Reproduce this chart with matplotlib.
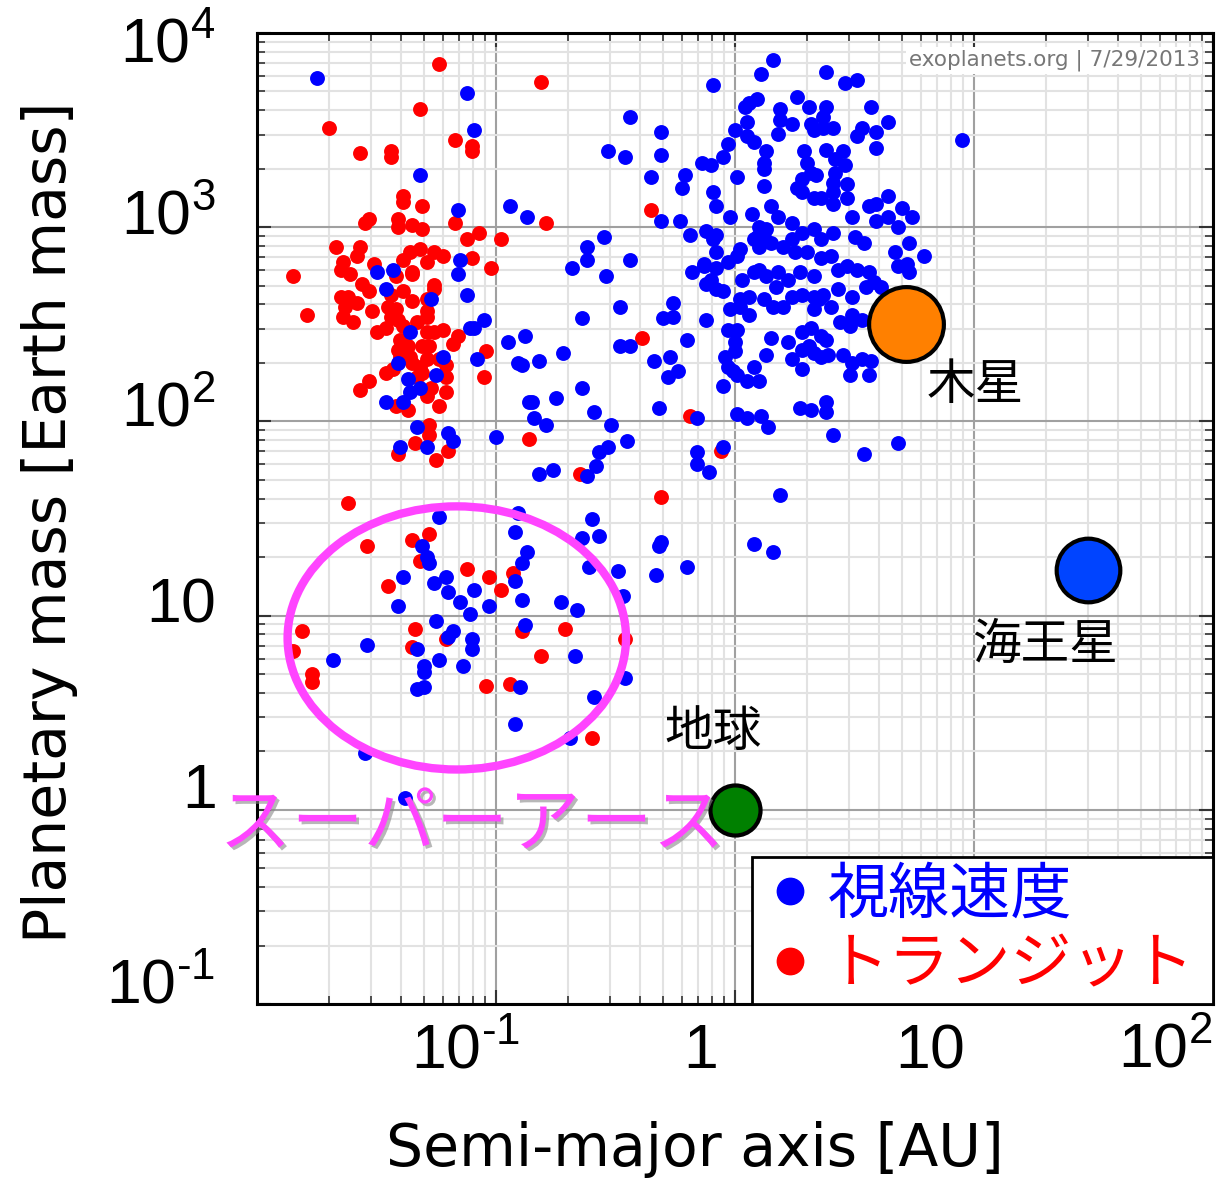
import numpy as np
import matplotlib
matplotlib.use('Agg')
import matplotlib.pyplot as plt
from matplotlib.patches import Ellipse
from matplotlib.lines import Line2D
from matplotlib import patheffects, transforms
from matplotlib.ticker import NullFormatter

plt.rcParams['font.family'] = ['DejaVu Sans', 'Noto Sans CJK JP']
plt.rcParams['mathtext.fontset'] = 'custom'
plt.rcParams['mathtext.rm'] = 'Liberation Sans'
plt.rcParams['mathtext.it'] = 'Liberation Sans'

JP = ['Noto Sans CJK JP', 'DejaVu Sans']

# (log10 semi-major axis [AU], log10 mass [Earth mass])
transit_pts = [
    (-1.24, 3.84), (-1.32, 3.61), (-1.70, 3.51), (-1.17, 3.45), (-1.10, 3.42), (-1.10, 3.39), (-1.57, 3.38),
    (-1.44, 3.39), (-1.44, 3.36), (-1.39, 3.16), (-1.39, 3.13), (-1.31, 3.11), (-1.53, 3.04), (-1.55, 3.02),
    (-1.41, 3.04), (-1.41, 3.00), (-1.35, 3.01), (-1.31, 2.99), (-1.17, 3.02), (-1.07, 2.97), (-1.12, 2.94),
    (-0.98, 2.94), (-1.67, 2.90), (-1.57, 2.90), (-1.58, 2.85), (-1.64, 2.82), (-1.65, 2.78), (-1.61, 2.76),
    (-1.51, 2.81), (-1.42, 2.75), (-1.32, 2.89), (-1.36, 2.87), (-1.39, 2.83), (-1.26, 2.87), (-1.22, 2.85),
    (-1.29, 2.82), (-1.35, 2.77), (-1.35, 2.76), (-1.10, 2.84), (-1.02, 2.79), (-1.85, 2.75), (-1.56, 2.71),
    (-1.53, 2.67), (-1.39, 2.67), (-1.44, 2.65), (-1.26, 2.70), (-1.26, 2.68), (-1.65, 2.64), (-1.62, 2.64),
    (-1.79, 2.55), (-1.63, 2.59), (-1.64, 2.54), (-1.60, 2.51), (-1.58, 2.61), (-1.52, 2.57), (-1.45, 2.59),
    (-1.42, 2.58), (-1.35, 2.62), (-1.29, 2.63), (-1.29, 2.57), (-1.50, 2.46), (-1.46, 2.48), (-1.41, 2.52),
    (-1.39, 2.49), (-1.44, 2.54), (-1.33, 2.51), (-1.29, 2.54), (-1.29, 2.46), (-1.26, 2.46), (-1.22, 2.47),
    (-1.16, 2.44), (-1.18, 2.40), (-1.40, 2.42), (-1.37, 2.39), (-1.41, 2.37), (-1.36, 2.33), (-1.31, 2.39),
    (-1.28, 2.39), (-1.40, 2.33), (-1.35, 2.30), (-1.32, 2.28), (-1.29, 2.32), (-1.24, 2.32), (-1.21, 2.29),
    (-1.46, 2.25), (-1.43, 2.27), (-1.53, 2.21), (-1.57, 2.16), (-1.21, 2.23), (-1.33, 2.23), (-1.31, 2.25),
    (-1.27, 2.17), (-1.29, 2.13), (-1.21, 2.15), (-1.24, 2.08), (-1.42, 2.08), (-1.37, 2.06), (-1.04, 2.36),
    (-1.05, 2.23), (-1.28, 1.98), (-1.28, 1.93), (-1.34, 1.89), (-1.41, 1.83), (-1.20, 1.85), (-1.25, 1.80),
    (-0.86, 1.91), (-0.81, 3.75), (-0.79, 3.02), (-0.35, 3.09), (-0.39, 2.43), (-0.65, 1.73), (-0.19, 2.03),
    (-0.06, 1.85), (-0.31, 1.61), (-1.62, 1.58), (-1.54, 1.36), (-1.35, 1.39), (-1.28, 1.42), (-1.32, 1.28),
    (-1.45, 1.15), (-1.12, 1.24), (-1.03, 1.20), (-0.93, 1.22), (-0.98, 1.13), (-0.89, 0.92), (-0.71, 0.93),
    (-1.81, 0.92), (-1.34, 0.93), (-1.21, 0.88), (-1.35, 0.84), (-1.85, 0.82), (-0.81, 0.79), (-0.46, 0.88),
    (-1.77, 0.70), (-1.77, 0.66), (-1.04, 0.64), (-0.94, 0.65), (-0.60, 0.37),
]

rv_pts = [
    (-1.75, 3.77), (-1.12, 3.69), (-1.09, 3.50), (-1.32, 3.27), (-1.16, 3.09), (-0.94, 3.11), (-0.87, 3.05),
    (-1.50, 2.77), (-1.43, 2.78), (-1.15, 2.83), (-1.16, 2.76), (-1.46, 2.68), (-1.12, 2.65), (-1.27, 2.63),
    (-1.36, 2.46), (-1.41, 2.30), (-1.22, 2.33), (-1.37, 2.22), (-1.25, 2.24), (-1.32, 2.17), (-1.36, 2.15),
    (-1.46, 2.10), (-1.39, 2.10), (-1.11, 2.48), (-1.09, 2.48), (-1.05, 2.52), (-0.95, 2.41), (-0.88, 2.44),
    (-1.08, 2.32), (-0.91, 2.30), (-0.89, 2.29), (-0.86, 2.10), (-1.33, 1.97), (-1.29, 1.87), (-1.40, 1.87),
    (-1.20, 1.94), (-1.18, 1.90), (-1.00, 1.92),
    (-0.09, 3.73), (-0.44, 3.57), (-0.31, 3.49), (-0.53, 3.39), (-0.46, 3.36), (-0.31, 3.37), (-0.14, 3.33),
    (-0.10, 3.32), (-0.35, 3.26), (-0.21, 3.27), (-0.22, 3.20), (-0.09, 3.18), (-0.08, 3.11), (-0.31, 3.03),
    (-0.23, 3.03), (-0.55, 2.95), (-0.62, 2.90), (-0.62, 2.83), (-0.68, 2.79), (-0.44, 2.83), (-0.54, 2.75),
    (-0.18, 2.77), (-0.19, 2.96), (-0.12, 2.98), (-0.09, 2.94), (-0.13, 2.80), (-0.10, 2.73), (-0.48, 2.59),
    (-0.26, 2.61), (-0.30, 2.53), (-0.26, 2.54), (-0.64, 2.53), (-0.12, 2.52), (-0.20, 2.42), (-0.48, 2.39),
    (-0.44, 2.39), (-0.72, 2.35), (-0.82, 2.31), (-0.34, 2.31), (-0.27, 2.33), (-0.24, 2.26), (-0.28, 2.23),
    (-0.64, 2.17), (-0.85, 2.10), (-0.75, 2.12), (-0.84, 2.02), (-0.79, 1.98), (-0.59, 2.05), (-0.32, 2.07),
    (-0.16, 2.02), (-0.52, 1.98), (-0.45, 1.90), (-0.53, 1.87), (-0.57, 1.84), (-0.58, 1.77), (-0.82, 1.73),
    (-0.76, 1.75), (-0.62, 1.72), (-0.16, 1.84), (-0.16, 1.78), (-0.11, 1.74), (-0.91, 1.53), (-0.60, 1.50),
    (-0.92, 1.43), (-0.64, 1.40), (-0.57, 1.41), (-0.32, 1.36), (-0.31, 1.38), (-0.87, 1.33), (-0.89, 1.27),
    (-0.61, 1.25), (-0.49, 1.23), (-0.33, 1.21), (-0.20, 1.25), (-0.92, 1.18), (-0.47, 1.10), (-1.03, 1.05),
    (-0.89, 1.08), (-0.73, 1.07), (-0.66, 1.03), (-0.05, 1.87),
    (-1.24, 1.51), (-1.31, 1.36), (-1.29, 1.30), (-1.28, 1.27), (-1.39, 1.20), (-1.41, 1.05), (-1.26, 1.17),
    (-1.21, 1.20), (-1.20, 1.12), (-1.15, 1.07), (-1.09, 1.13), (-1.11, 1.01), (-1.25, 0.97), (-0.88, 0.95),
    (-1.18, 0.92), (-1.20, 0.89), (-1.10, 0.88), (-1.10, 0.83), (-1.33, 0.83), (-1.54, 0.85), (-1.68, 0.77),
    (-1.24, 0.77), (-1.14, 0.74), (-1.30, 0.74), (-1.30, 0.71), (-0.67, 0.79), (-0.46, 0.68), (-0.90, 0.63),
    (-1.33, 0.62), (-1.30, 0.63), (-0.59, 0.58), (-0.92, 0.44), (-0.69, 0.37), (-1.55, 0.29), (-1.38, 0.06),
    (0.19, 1.62), (0.08, 1.37), (0.16, 1.33), (0.68, 1.89), (0.54, 1.83),
    (0.16, 3.86), (0.11, 3.79), (0.38, 3.80), (0.46, 3.74), (0.51, 3.76), (0.26, 3.67), (0.04, 3.62),
    (0.06, 3.64), (0.09, 3.66), (0.31, 3.62), (0.38, 3.62), (0.19, 3.61), (0.57, 3.62), (0.37, 3.57),
    (0.64, 3.54), (0.05, 3.54), (0.19, 3.55), (0.24, 3.53), (0.32, 3.53), (0.33, 3.50), (0.37, 3.51),
    (0.41, 3.51), (0.00, 3.50), (0.53, 3.51), (0.51, 3.47), (0.59, 3.49), (0.18, 3.48), (0.05, 3.47),
    (0.08, 3.44), (0.59, 3.41), (0.95, 3.45), (-0.03, 3.43), (-0.05, 3.36), (0.13, 3.39), (0.12, 3.33),
    (0.29, 3.39), (0.30, 3.33), (0.38, 3.40), (0.45, 3.39), (0.42, 3.35), (0.46, 3.32), (0.12, 3.30),
    (0.01, 3.26), (0.32, 3.28), (0.34, 3.27), (0.28, 3.25), (0.42, 3.28), (0.12, 3.21), (0.26, 3.20),
    (0.28, 3.18), (0.41, 3.23), (0.41, 3.18), (0.47, 3.22), (0.33, 3.15), (0.36, 3.15), (0.47, 3.15),
    (0.41, 3.12), (0.64, 3.16), (0.15, 3.11), (0.18, 3.05), (0.07, 3.07), (-0.02, 3.05), (0.56, 3.11),
    (0.59, 3.12), (0.70, 3.10), (0.49, 3.05), (0.59, 3.03), (0.64, 3.05), (0.74, 3.05), (0.68, 3.00),
    (0.24, 3.02), (0.10, 3.00), (0.13, 2.99), (0.09, 2.95), (0.33, 2.99), (0.41, 2.97), (0.50, 2.95),
    (0.54, 2.92), (0.73, 2.92),
    (-0.08, 2.96), (-0.08, 2.87), (0.02, 2.89), (0.01, 2.85), (0.08, 2.94), (0.12, 2.95), (0.10, 2.90),
    (0.15, 2.92), (0.20, 2.90), (0.24, 2.94), (0.25, 2.87), (0.28, 2.97), (0.36, 2.94), (0.30, 2.87),
    (0.36, 2.84), (0.40, 2.85), (0.67, 2.87), (0.79, 2.85), (-0.13, 2.81), (-0.08, 2.79), (-0.03, 2.82),
    (-0.12, 2.71), (-0.08, 2.68), (-0.05, 2.67), (0.03, 2.73), (0.08, 2.77), (0.10, 2.78), (0.13, 2.75),
    (0.18, 2.77), (0.22, 2.73), (0.02, 2.63), (0.06, 2.64), (0.17, 2.69), (0.27, 2.77), (0.33, 2.75),
    (0.43, 2.78), (0.47, 2.80), (0.51, 2.78), (0.56, 2.77), (0.58, 2.72), (0.61, 2.69), (0.55, 2.69),
    (0.68, 2.80), (0.72, 2.81), (0.73, 2.77), (0.43, 2.68), (0.49, 2.64), (0.12, 2.63), (0.16, 2.59),
    (0.20, 2.59), (0.24, 2.64), (0.28, 2.65), (0.33, 2.64), (0.37, 2.65), (0.35, 2.63), (0.40, 2.59),
    (0.33, 2.58), (-0.02, 2.58), (0.02, 2.59), (0.06, 2.55), (0.44, 2.51), (0.49, 2.55), (0.48, 2.49),
    (0.53, 2.52), (-0.03, 2.47), (0.01, 2.47), (0.00, 2.41), (0.00, 2.36), (0.15, 2.43), (0.22, 2.41),
    (0.28, 2.46), (0.32, 2.48), (0.36, 2.44), (0.38, 2.42), (0.31, 2.39), (0.28, 2.37), (0.33, 2.35),
    (-0.04, 2.33), (-0.03, 2.28), (-0.01, 2.26), (0.01, 2.24), (-0.05, 2.18), (0.05, 2.21), (0.08, 2.28),
    (0.10, 2.21), (0.13, 2.34), (0.24, 2.32), (0.28, 2.27), (0.36, 2.33), (0.39, 2.34), (0.45, 2.34),
    (0.49, 2.30), (0.53, 2.32), (0.57, 2.31), (0.48, 2.24), (0.56, 2.24), (0.01, 2.04), (0.05, 2.02),
    (0.11, 2.03), (0.14, 1.97), (0.27, 2.07), (0.32, 2.06), (0.38, 2.10), (0.38, 2.05), (0.41, 1.93),
]

# solar system planets: a [AU], mass [Earth mass]
planets = ['木星', '海王星', '地球']
planet_a = [5.2, 30.1, 1.0]
planet_m = [318, 17.1, 1.0]
planet_colors = ['#ff8000', '#0044ff', '#008000']
planet_sizes = [2900, 2100, 1300]
label_offsets = [(50, -44), (-31, -54), (-16, 56)]

legend_labels = ['視線速度', 'トランジット']
xticks = [0.1, 1, 10, 100]
xticklabels = [r'$10^{\text{-1}}$', r'$1$', r'$10$', r'$10^{2}$']
yticks = [0.1, 1, 10, 100, 1000, 10000]
yticklabels = [r'$10^{\text{-1}}$', r'$1$', r'$10$', r'$10^{2}$', r'$10^{3}$', r'$10^{4}$']

fig = plt.figure(figsize=(12.16, 11.83), dpi=100)
ax = fig.add_axes([257 / 1216, 1 - 1004 / 1183, 956 / 1216, 971 / 1183])

tr = np.array(transit_pts)
rv = np.array(rv_pts)
ax.scatter(10 ** tr[:, 0], 10 ** tr[:, 1], s=115, c='#ff0000', lw=0, zorder=3)
ax.scatter(10 ** rv[:, 0], 10 ** rv[:, 1], s=115, c='#0000ff', lw=0, zorder=3)

ax.set_xscale('log')
ax.set_yscale('log')
ax.set_xlim(0.01, 100)
ax.set_ylim(0.1, 10000)

ax.grid(which='major', color='#a0a0a0', lw=1.5, zorder=0)
ax.grid(which='minor', color='#e2e2e2', lw=1.5, zorder=0)
ax.set_axisbelow(True)
for sp in ax.spines.values():
    sp.set_linewidth(2.2)
ax.tick_params(which='both', direction='in', top=True, right=True, color='#333333')
ax.tick_params(which='major', length=10, width=1.5, labelsize=45)
ax.tick_params(which='minor', length=6, width=1.2)
ax.tick_params(axis='y', pad=30)
ax.tick_params(axis='x', pad=12)
ax.xaxis.set_minor_formatter(NullFormatter())
ax.yaxis.set_minor_formatter(NullFormatter())
ax.set_xticks(xticks)
ax.set_xticklabels(xticklabels)
ax.set_yticks(yticks)
ax.set_yticklabels(yticklabels)

# the labels on the slide sit a little left / above their grid lines
for lab, dx in zip(ax.get_xticklabels(), [-0.31, -0.35, -0.44, -0.48]):
    lab.set_transform(lab.get_transform() + transforms.ScaledTranslation(dx, 0, fig.dpi_scale_trans))
for lab, dy in zip(ax.get_yticklabels(), [0.25, 0.25, 0.18, 0.19, 0.16, -0.05]):
    lab.set_transform(lab.get_transform() + transforms.ScaledTranslation(0, dy, fig.dpi_scale_trans))

fig.text(695 / 1216, 1 - 1150 / 1183, 'Semi-major axis [AU]', fontsize=42, ha='center', va='center')
fig.text(50 / 1216, 1 - 522 / 1183, 'Planetary mass [Earth mass]', fontsize=42,
         ha='center', va='center', rotation=90)

ax.text(0.986, 0.972, 'exoplanets.org | 7/29/2013', transform=ax.transAxes, ha='right', va='center',
        fontsize=15.5, color='#777777', bbox=dict(facecolor='white', edgecolor='none', pad=2), zorder=4)

# solar system planets
for name, a, m, col, s, off in zip(planets, planet_a, planet_m, planet_colors, planet_sizes, label_offsets):
    ax.scatter([a], [m], s=s, c=col, edgecolors='black', linewidths=3, zorder=5, clip_on=False)
    ax.annotate(name, (a, m), xytext=off, textcoords='offset points', ha='center', va='center',
                fontsize=35, family=JP, zorder=6)

# super-earth ellipse and label
ax.add_patch(Ellipse((0.209, 0.377), 0.354, 0.271, transform=ax.transAxes, fill=False,
                     edgecolor='#ff44ff', lw=6, zorder=4))
ax.text(0.225, 0.184, 'スーパーアース', transform=ax.transAxes, ha='center', va='center',
        fontsize=52, color='#ff44ff', family=JP, clip_on=False, zorder=6,
        path_effects=[patheffects.SimplePatchShadow(offset=(2, -2), shadow_rgbFace='#888888', alpha=0.6),
                      patheffects.Normal()])

handles = [Line2D([], [], marker='o', ls='none', color='#0000ff', markersize=19),
           Line2D([], [], marker='o', ls='none', color='#ff0000', markersize=19)]
leg = ax.legend(handles, legend_labels, loc='lower left', bbox_to_anchor=(495 / 956, 0, 461 / 956, 0.1),
                mode='expand', borderaxespad=0, fancybox=False, framealpha=1, edgecolor='black',
                prop=dict(family=JP, size=44), labelcolor=['#0000ff', '#ff0000'],
                handlelength=1.0, handletextpad=0.12, borderpad=0.12, labelspacing=0.12)
leg.get_frame().set_linewidth(2)
leg.set_zorder(7)

fig.savefig('out.png', dpi=100)
